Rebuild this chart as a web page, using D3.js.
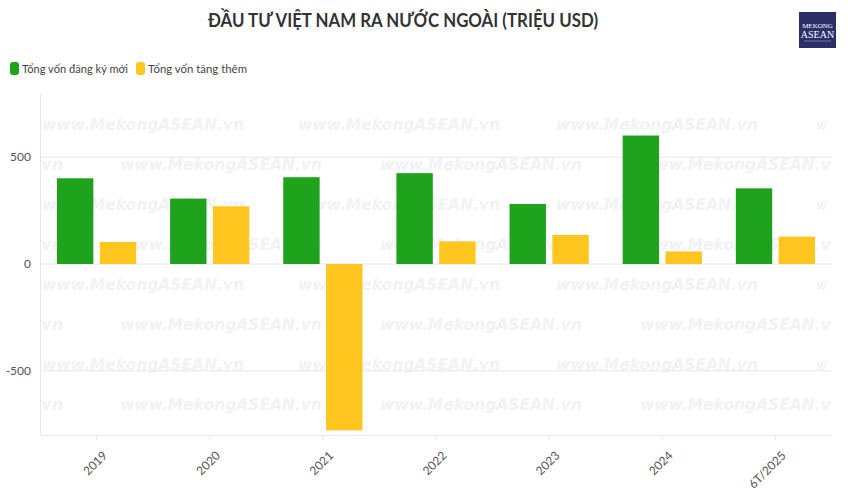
<!DOCTYPE html>
<html><head><meta charset="utf-8">
<script src="https://cdn.jsdelivr.net/npm/d3@7"></script>
<style>body{margin:0;background:#fff}svg{display:block}text{font-family:Lato,"Noto Sans",sans-serif}</style>
</head><body><svg id="c" width="850" height="492"></svg>
<script>
const categories = ["2019","2020","2021","2022","2023","2024","6T/2025"];
const seriesNames = ["Tổng vốn đăng ký mới","Tổng vốn tăng thêm"];
const newCapital = [401, 306, 406, 425, 281, 601, 354];
const addedCapital = [103, 270, -778, 106, 136, 59, 128];
const yTicks = [-500, 0, 500];
const colors = ["#1fa31c", "#ffc61f"];

const svg = d3.select("#c");
const W = 850, H = 492;
const m = {l:40, r:18, t:93, b:57};
const x0 = d3.scaleBand().domain(categories).range([m.l, W - m.r]).paddingInner(0.3).paddingOuter(0.15);
const x1 = d3.scaleBand().domain([0,1]).range([0, x0.bandwidth()]).paddingInner(0.15);
const y = d3.scaleLinear().domain([-800, 800]).range([H - m.b, m.t]);

// watermark (pieces kept inside the plot area)
const WM = "www.MekongASEAN.vn";
const wmW = 202;
const wm = svg.append("g");
function wmText(xx, yy, str) {
  wm.append("text").attr("x", xx).attr("y", yy)
    .attr("font-size", 16).attr("font-style","italic").attr("font-weight","bold")
    .attr("fill", "#f2f2f4").style("font-family","'DejaVu Sans',sans-serif")
    .attr("textLength", wmW * str.length / WM.length).attr("lengthAdjust","spacingAndGlyphs")
    .text(str);
}
for (let r = 0; r < 8; r++) {
  const yy = 130 + r * 40;
  if (r % 2 === 0) {
    [42, 298, 556].forEach(xx => wmText(xx, yy, WM));
    wmText(816, yy, "w");
  } else {
    wmText(41, yy, "vn");
    [120, 380].forEach(xx => wmText(xx, yy, WM));
    wmText(640, yy, WM.slice(0, 17));
  }
}

// gridlines
svg.append("g").selectAll("line").data(yTicks).join("line")
  .attr("x1", m.l).attr("x2", W - m.r).attr("y1", d => y(d)).attr("y2", d => y(d))
  .attr("stroke", "#e6e6e6").attr("stroke-width", 1);

// y axis
const ya = svg.append("g").attr("transform", `translate(${m.l},0)`)
  .call(d3.axisLeft(y).tickValues(yTicks).tickFormat(d => String(d)).tickSize(0).tickPadding(9));
ya.select(".domain").attr("stroke", "#e6e6e6");
ya.selectAll("text").attr("font-size", 12).attr("fill", "#555").style("font-family","Lato,sans-serif");

// bars
const series = [newCapital, addedCapital];
const g = svg.append("g");
series.forEach((vals, si) => {
  g.selectAll(null).data(vals).join("rect")
    .attr("x", (d, i) => x0(categories[i]) + x1(si))
    .attr("width", x1.bandwidth())
    .attr("y", d => y(Math.max(0, d)))
    .attr("height", d => Math.abs(y(d) - y(0)))
    .attr("fill", colors[si]);
});

// x axis
const xa = svg.append("g").attr("transform", `translate(0,${H - m.b})`)
  .call(d3.axisBottom(x0).tickSize(5).tickSizeOuter(0).tickPadding(4));
xa.select(".domain").attr("stroke", "#e6e6e6");
xa.selectAll(".tick line").attr("stroke", "#e6e6e6");
xa.selectAll("text").attr("font-size", 12).attr("fill", "#555")
  .style("font-family","Lato,sans-serif")
  .attr("text-anchor", "end").attr("dy", "0.35em")
  .attr("transform", "translate(2,12) rotate(-45)");

// title
svg.append("text").attr("x", 403).attr("y", 27).attr("text-anchor","middle")
  .attr("font-size", 18).attr("font-weight","bold").attr("fill","#333")
  .style("font-family","Lato,sans-serif")
  .attr("textLength", 390).attr("lengthAdjust","spacingAndGlyphs")
  .text("ĐẦU TƯ VIỆT NAM RA NƯỚC NGOÀI (TRIỆU USD)");

// legend
const lg = svg.append("g");
const legX = [10, 136];
const legW = [106, 99];
seriesNames.forEach((n, i) => {
  lg.append("rect").attr("x", legX[i]).attr("y", 62).attr("width", 9).attr("height", 13).attr("rx", 3)
    .attr("fill", colors[i]);
  lg.append("text").attr("x", legX[i] + 12).attr("y", 73).attr("font-size", 12).attr("fill","#444")
    .style("font-family","Lato,sans-serif")
    .attr("textLength", legW[i]).attr("lengthAdjust","spacingAndGlyphs").text(n);
});

// logo
const logo = svg.append("g");
logo.append("rect").attr("x", 799).attr("y", 12).attr("width", 37).attr("height", 36).attr("fill", "#2b2e68");
logo.append("text").attr("x", 817.5).attr("y", 28).attr("text-anchor","middle").attr("font-size", 7)
  .attr("fill","#fff").style("font-family","'Liberation Serif',serif").text("MEKONG");
logo.append("text").attr("x", 817.5).attr("y", 38).attr("text-anchor","middle").attr("font-size", 10)
  .attr("fill","#fff").style("font-family","'Liberation Serif',serif").text("ASEAN");
logo.append("line").attr("x1", 804).attr("x2", 831).attr("y1", 41).attr("y2", 41).attr("stroke","#aab").attr("stroke-width", 0.6);
</script></body></html>
